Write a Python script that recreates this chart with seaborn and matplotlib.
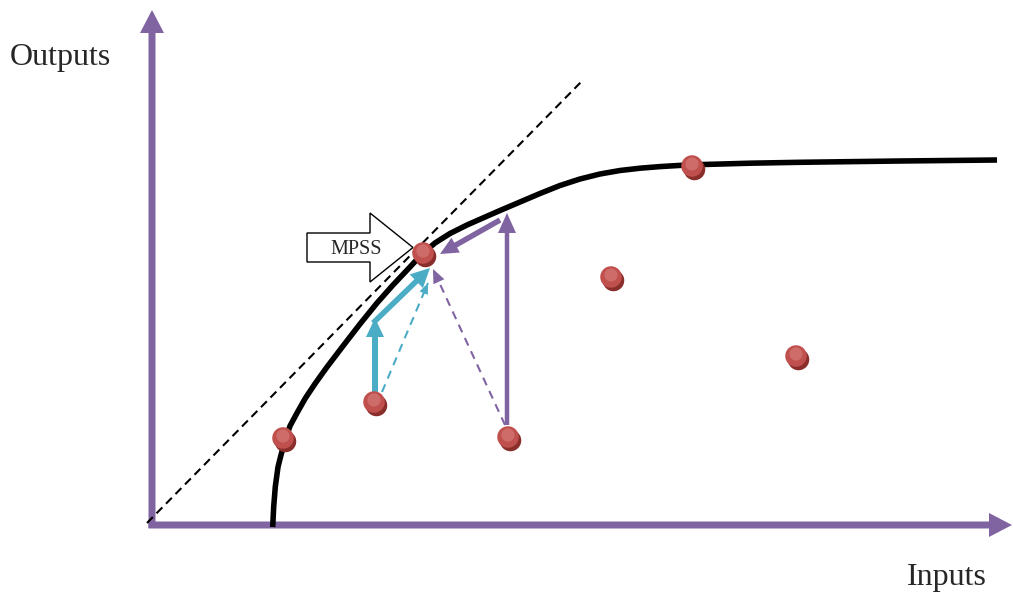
import matplotlib.pyplot as plt
from matplotlib.patches import FancyArrow
import pandas as pd
import seaborn as sns

# Frontière de production (inputs -> outputs)
curve_in = [1.207, 1.217, 1.233, 1.26, 1.29, 1.33, 1.38, 1.45, 1.533, 1.633, 1.75, 1.91,
            2.08, 2.25, 2.41, 2.58, 2.70, 2.83, 2.98, 3.15, 3.32, 3.48, 3.68, 3.88, 4.08,
            4.28, 4.48, 4.68, 4.88, 5.08, 5.28, 5.48, 5.98, 6.48, 7.48, 8.45]
curve_out = [-0.04, 0.163, 0.363, 0.56, 0.68, 0.825, 0.97, 1.10, 1.247, 1.397, 1.56, 1.77,
             1.99, 2.20, 2.38, 2.56, 2.69, 2.80, 2.895, 2.98, 3.055, 3.125, 3.21, 3.295, 3.375,
             3.44, 3.49, 3.525, 3.548, 3.564, 3.576, 3.584, 3.598, 3.607, 3.62, 3.63]

# Unités de décision (DMU)
dmu_in = [1.31, 2.22, 2.71, 3.56, 4.59, 5.40, 6.44]
dmu_out = [0.85, 1.21, 2.70, 0.86, 2.46, 3.57, 1.67]

# Rayon CRS passant par l'origine
crs_in = [-0.05, 4.31]
crs_out = [0.00, 4.43]

PURPLE = "#8064A2"
TEAL = "#4BACC6"
RED = "#C0504D"

sns.set_theme(style="white")
plt.rcParams["font.family"] = ["Liberation Serif", "DejaVu Serif"]

fig = plt.figure(figsize=(10.13, 5.94), dpi=100)
ax = fig.add_axes([0, 0, 1, 1])
ax.set_xlim(-1.52, 8.61)
ax.set_ylim(-0.71, 5.23)
ax.set_aspect("equal")
ax.axis("off")


def block_arrow(x0, y0, x1, y1, color, width, hw, hl, z=4):
    ax.add_patch(FancyArrow(x0, y0, x1 - x0, y1 - y0, width=width, head_width=hw,
                            head_length=hl, length_includes_head=True,
                            fc=color, ec="none", lw=0, zorder=z))


def dashed_arrow(x0, y0, x1, y1, color, hw, hl):
    ax.plot([x0, x1], [y0, y1], color=color, lw=1.5, linestyle=(0, (4, 3)), zorder=4)
    dx, dy = x1 - x0, y1 - y0
    n = (dx ** 2 + dy ** 2) ** 0.5
    block_arrow(x1 - dx / n * hl, y1 - dy / n * hl, x1, y1, color, 0.015, hw, hl)


# Axes en violet avec flèches
block_arrow(-0.035, -0.02, 8.60, -0.02, PURPLE, 0.07, 0.24, 0.23, z=2)
block_arrow(0, -0.05, 0, 5.13, PURPLE, 0.07, 0.24, 0.23, z=2)

# Rayon CRS
sns.lineplot(x=crs_in, y=crs_out, ax=ax, color="black", lw=1.5, linestyle=(0, (4, 2.5)))

# Frontière
frontier = pd.DataFrame({"inputs": curve_in, "outputs": curve_out})
sns.lineplot(data=frontier, x="inputs", y="outputs", ax=ax, sort=False,
             color="black", lw=4, solid_capstyle="butt", solid_joinstyle="round")

# Projections de la DMU (2.22, 1.21) en bleu
block_arrow(2.23, 1.28, 2.23, 2.05, TEAL, 0.06, 0.18, 0.19)
block_arrow(2.21, 2.00, 2.78, 2.55, TEAL, 0.055, 0.19, 0.19)
dashed_arrow(2.30, 1.31, 2.76, 2.40, TEAL, 0.09, 0.11)

# Projections de la DMU (3.56, 0.86) en violet
block_arrow(3.55, 0.98, 3.55, 3.10, PURPLE, 0.045, 0.18, 0.20)
block_arrow(3.48, 3.03, 2.88, 2.69, PURPLE, 0.055, 0.17, 0.18)
dashed_arrow(3.53, 0.98, 2.81, 2.54, PURPLE, 0.12, 0.14)

# Flèche MPSS
ax.add_patch(FancyArrow(1.55, 2.755, 1.06, 0, width=0.29, head_width=0.69,
                        head_length=0.43, length_includes_head=True,
                        fc="white", ec="black", lw=1, zorder=3))
ax.text(2.04, 2.74, "MPSS", ha="center", va="center", fontsize=14.5, zorder=4)

# Points (effet sphère)
pts = pd.DataFrame({"inputs": dmu_in, "outputs": dmu_out})
sns.scatterplot(x=pts["inputs"] + 0.025, y=pts["outputs"] - 0.035, ax=ax, s=240,
                color="#8A2E2B", edgecolor="none", zorder=5)
sns.scatterplot(data=pts, x="inputs", y="outputs", ax=ax, s=240,
                color=RED, edgecolor="none", zorder=6)
sns.scatterplot(x=pts["inputs"], y=pts["outputs"] + 0.02, ax=ax, s=90,
                color="#D9807D", edgecolor="none", alpha=0.6, zorder=7)

ax.text(-1.42, 4.66, "Outputs", ha="left", va="center", fontsize=23)
ax.text(8.35, -0.54, "Inputs", ha="right", va="center", fontsize=23)

fig.savefig("out.png", dpi=100)
